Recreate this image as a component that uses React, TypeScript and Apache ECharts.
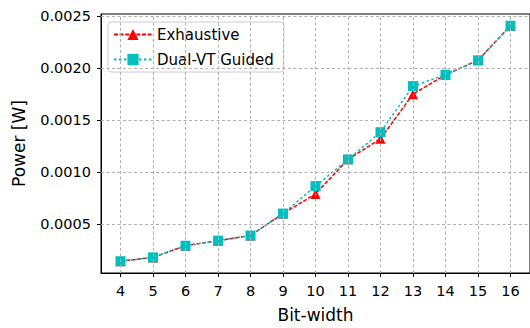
import React, { useEffect, useRef } from "react";
import * as echarts from "echarts";

// Bit-width sweep and measured power for each design approach
const bitWidths = [4, 5, 6, 7, 8, 9, 10, 11, 12, 13, 14, 15, 16];
const exhaustivePower = [
  0.000144, 0.000181, 0.000293, 0.000342, 0.000391, 0.000602, 0.00079,
  0.001123, 0.00132, 0.00175, 0.001936, 0.002075, 0.002407,
];
const dualVtPower = [
  0.000144, 0.000181, 0.000293, 0.000342, 0.000391, 0.000602, 0.000866,
  0.001123, 0.001384, 0.001827, 0.001936, 0.002075, 0.002407,
];
const yTicks = [0.0005, 0.001, 0.0015, 0.002, 0.0025];

const FONT = "DejaVu Sans";

// 5% padding around the data range, like a default plotting margin
function paddedExtent(values: number[]): [number, number] {
  const lo = Math.min(...values);
  const hi = Math.max(...values);
  const pad = (hi - lo) * 0.05;
  return [lo - pad, hi + pad];
}

export default function App() {
  const ref = useRef<HTMLDivElement>(null);

  useEffect(() => {
    if (!ref.current) return;
    const chart = echarts.init(ref.current, undefined, { renderer: "svg" });

    const [xMin, xMax] = paddedExtent(bitWidths);
    const [yMin, yMax] = paddedExtent([...exhaustivePower, ...dualVtPower]);

    const toPairs = (ys: number[]) => bitWidths.map((x, i) => [x, ys[i]]);

    // dashed grid segments spanning the plot at each tick
    const gridSegments = [
      ...bitWidths.map((x) => [{ coord: [x, yMin] }, { coord: [x, yMax] }]),
      ...yTicks.map((y) => [{ coord: [xMin, y] }, { coord: [xMax, y] }]),
    ];

    chart.setOption({
      animation: false,
      backgroundColor: "#ffffff",
      textStyle: { fontFamily: FONT },
      grid: {
        left: 101,
        top: 14,
        right: -2,
        bottom: 48,
        show: true,
        borderColor: "#000",
        borderWidth: 1,
      },
      legend: {
        data: ["Exhaustive", "Dual-VT Guided"],
        orient: "vertical",
        left: 108,
        top: 22,
        padding: [5, 10, 5, 5],
        itemGap: 10,
        itemWidth: 38,
        itemHeight: 14,
        backgroundColor: "rgba(255,255,255,0.85)",
        borderColor: "#cccccc",
        borderWidth: 1,
        borderRadius: 3,
        textStyle: { fontFamily: FONT, fontSize: 15, color: "#000", lineHeight: 14 },
      },
      xAxis: {
        type: "value",
        min: xMin,
        max: xMax,
        name: "Bit-width",
        nameLocation: "middle",
        nameGap: 33,
        nameTextStyle: { fontFamily: FONT, fontSize: 17, color: "#000" },
        axisLine: { show: true, lineStyle: { color: "#000", width: 1 } },
        axisTick: {
          show: true,
          length: 4,
          customValues: bitWidths,
          lineStyle: { color: "#000", width: 1 },
        },
        axisLabel: {
          customValues: bitWidths,
          margin: 10,
          fontFamily: FONT,
          fontSize: 14.5,
          color: "#000",
          formatter: (v: number) => String(v),
        },
        splitLine: { show: false },
      },
      yAxis: {
        type: "value",
        min: yMin,
        max: yMax,
        name: "Power [W]",
        nameLocation: "middle",
        nameGap: 74,
        nameTextStyle: { fontFamily: FONT, fontSize: 17, color: "#000" },
        axisLine: { show: true, lineStyle: { color: "#000", width: 1 } },
        axisTick: {
          show: true,
          length: 4,
          customValues: yTicks,
          lineStyle: { color: "#000", width: 1 },
        },
        axisLabel: {
          customValues: yTicks,
          margin: 10,
          fontFamily: FONT,
          fontSize: 14.5,
          color: "#000",
          formatter: (v: number) => v.toFixed(4),
        },
        splitLine: { show: false },
      },
      series: [
        {
          name: "grid",
          type: "line",
          data: toPairs(exhaustivePower),
          showSymbol: false,
          silent: true,
          z: 1,
          lineStyle: { opacity: 0 },
          markLine: {
            silent: true,
            symbol: "none",
            label: { show: false },
            animation: false,
            lineStyle: { type: [3, 2.5], color: "#b0b0b0", width: 1 },
            data: gridSegments,
          },
        },
        {
          name: "Exhaustive",
          type: "line",
          data: toPairs(exhaustivePower),
          z: 3,
          symbol: "triangle",
          symbolSize: 10,
          itemStyle: { color: "#ff0000" },
          lineStyle: { color: "#ff0000", width: 1.5, type: [4, 1.6] },
        },
        {
          name: "Dual-VT Guided",
          type: "line",
          data: toPairs(dualVtPower),
          z: 4,
          symbol: "rect",
          symbolSize: 10,
          itemStyle: { color: "#00bfbf" },
          lineStyle: { color: "#00bfbf", width: 1.5, type: [2.5, 2.5] },
        },
      ],
    });

    return () => chart.dispose();
  }, []);

  return (
    <div
      ref={ref}
      style={{ position: "fixed", left: 0, top: 0, width: 530, height: 328 }}
    />
  );
}
